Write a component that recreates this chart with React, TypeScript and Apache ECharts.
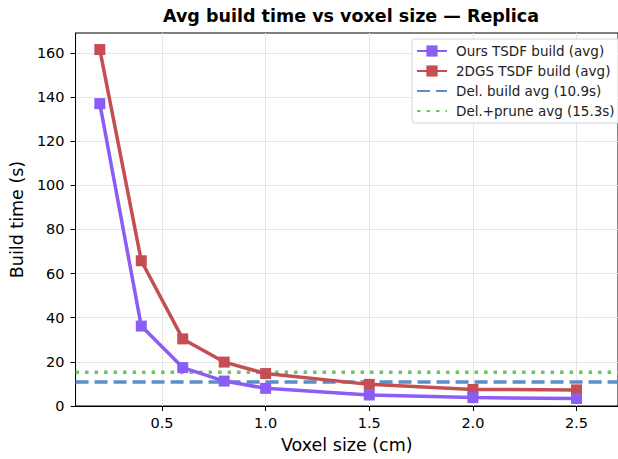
import React, { useEffect, useRef } from "react";
import * as echarts from "echarts";

const VOXEL = [0.2, 0.4, 0.6, 0.8, 1.0, 1.5, 2.0, 2.5];
const OURS = [137, 36.2, 17.4, 11.3, 8.0, 5.0, 3.8, 3.4];
const TWODGS = [161.5, 65.8, 30.4, 19.9, 14.7, 9.8, 7.5, 7.3];
const DEL_BUILD = 10.9;
const DEL_PRUNE = 15.3;
const X_TICKS = [0.5, 1.0, 1.5, 2.0, 2.5];
const Y_TICKS = [0, 20, 40, 60, 80, 100, 120, 140, 160];
const X_MIN = 0.083;
const X_MAX = 2.7;
const Y_MIN = 0;
const Y_MAX = 169;

const FONT = "DejaVu Sans";

export default function App() {
  const ref = useRef<HTMLDivElement>(null);
  useEffect(() => {
    if (!ref.current) return;
    const chart = echarts.init(ref.current, null, { renderer: "svg" });
    const pair = (xs: number[], ys: number[]) => xs.map((x, i) => [x, ys[i]]);
    const hideSym = { itemStyle: { opacity: 0 } };
    const option: any = {
      animation: false,
      backgroundColor: "#ffffff",
      graphic: [
        {
          type: "text",
          x: 351,
          y: 16,
          style: {
            text: "Avg build time vs voxel size — Replica",
            font: `bold 17.5px "${FONT}"`,
            fill: "#000",
            textAlign: "center",
            textVerticalAlign: "middle",
          },
        },
      ],
      grid: {
        left: 75.5,
        top: 33,
        width: 550,
        height: 377,
        show: true,
        borderColor: "#000",
        borderWidth: 1,
        backgroundColor: "transparent",
      },
      legend: {
        left: 412,
        top: 39,
        orient: "vertical",
        itemWidth: 30,
        itemHeight: 14,
        itemGap: 6,
        padding: [5, 6, 5, 4],
        backgroundColor: "rgba(255,255,255,0.85)",
        borderColor: "#d6d6d6",
        borderWidth: 1,
        borderRadius: 3,
        textStyle: { fontFamily: FONT, fontSize: 13.5, color: "#222", padding: [0, 0, 0, 4] },
        data: [
          { name: "Ours TSDF build (avg)" },
          { name: "2DGS TSDF build (avg)" },
          { name: "Del. build avg (10.9s)", ...hideSym },
          { name: "Del.+prune avg (15.3s)", ...hideSym },
        ],
      },
      xAxis: {
        type: "value",
        min: X_MIN,
        max: X_MAX,
        name: "Voxel size (cm)",
        nameLocation: "middle",
        nameGap: 30,
        nameTextStyle: { fontFamily: FONT, fontSize: 17.5, color: "#000" },
        axisLine: { show: true, onZero: false, lineStyle: { color: "#000", width: 1 } },
        axisTick: { show: true, length: 5, customValues: X_TICKS, lineStyle: { color: "#000" } },
        axisLabel: {
          customValues: X_TICKS,
          margin: 9,
          fontFamily: FONT,
          fontSize: 14.5,
          color: "#000",
          formatter: (v: number) => v.toFixed(1),
        },
        splitLine: { show: true, customValues: X_TICKS, lineStyle: { color: "#e6e6e6", width: 1 } },
      },
      yAxis: {
        type: "value",
        min: Y_MIN,
        max: Y_MAX,
        name: "Build time (s)",
        nameLocation: "middle",
        nameGap: 46,
        nameRotate: 90,
        nameTextStyle: { fontFamily: FONT, fontSize: 17.5, color: "#000" },
        axisLine: { show: true, lineStyle: { color: "#000", width: 1 } },
        axisTick: { show: true, length: 5, customValues: Y_TICKS, lineStyle: { color: "#000" } },
        axisLabel: {
          customValues: Y_TICKS,
          margin: 11,
          fontFamily: FONT,
          fontSize: 14.5,
          color: "#000",
        },
        splitLine: { show: true, customValues: Y_TICKS, lineStyle: { color: "#e6e6e6", width: 1 } },
      },
      series: [
        {
          name: "Ours TSDF build (avg)",
          type: "line",
          data: pair(VOXEL, OURS),
          symbol: "rect",
          symbolSize: 11,
          lineStyle: { color: "#8b5cf6", width: 3.5 },
          itemStyle: { color: "#8b5cf6" },
          z: 4,
        },
        {
          name: "2DGS TSDF build (avg)",
          type: "line",
          data: pair(VOXEL, TWODGS),
          symbol: "rect",
          symbolSize: 11,
          lineStyle: { color: "#c44e52", width: 3.5 },
          itemStyle: { color: "#c44e52" },
          z: 3,
        },
        {
          name: "Del. build avg (10.9s)",
          type: "line",
          data: [
            [X_MIN, DEL_BUILD],
            [X_MAX, DEL_BUILD],
          ],
          symbol: "none",
          lineStyle: { color: "#5b8ec6", width: 3.5, type: [13, 6] },
          itemStyle: { color: "#5b8ec6" },
          z: 2,
        },
        {
          name: "Del.+prune avg (15.3s)",
          type: "line",
          data: [
            [X_MIN, DEL_PRUNE],
            [X_MAX, DEL_PRUNE],
          ],
          symbol: "none",
          lineStyle: { color: "#6cc46a", width: 3.5, type: [3.5, 6] },
          itemStyle: { color: "#6cc46a" },
          z: 2,
        },
      ],
    };
    chart.setOption(option);
    return () => chart.dispose();
  }, []);
  return <div ref={ref} style={{ width: 618, height: 459, position: "absolute", left: 0, top: 0 }} />;
}
